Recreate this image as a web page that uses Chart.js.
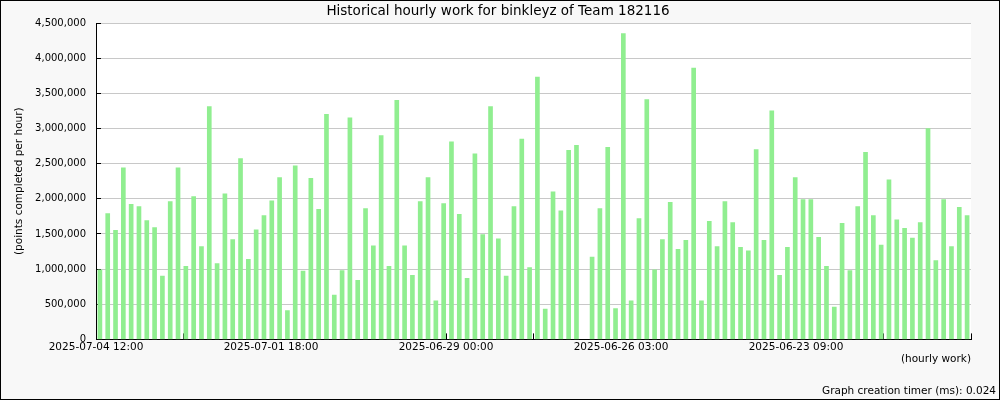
<!DOCTYPE html>
<html>
<head>
<meta charset="utf-8">
<title>Historical hourly work</title>
<script src="https://cdn.jsdelivr.net/npm/chart.js@4.4.0/dist/chart.umd.min.js"></script>
<style>
    body { margin: 0; background: #ffffff; }
    #wrap { width: 1000px; height: 400px; position: relative; }
</style>
</head>
<body>
<div id="wrap"><canvas id="bar-chart"></canvas></div>
<script>
var categories = [
    1, 2, 3, 4, 5, 6, 7, 8, 9, 10, 11, 12, 13, 14, 15, 16,
    17, 18, 19, 20, 21, 22, 23, 24, 25, 26, 27, 28, 29, 30, 31, 32,
    33, 34, 35, 36, 37, 38, 39, 40, 41, 42, 43, 44, 45, 46, 47, 48,
    49, 50, 51, 52, 53, 54, 55, 56, 57, 58, 59, 60, 61, 62, 63, 64,
    65, 66, 67, 68, 69, 70, 71, 72, 73, 74, 75, 76, 77, 78, 79, 80,
    81, 82, 83, 84, 85, 86, 87, 88, 89, 90, 91, 92, 93, 94, 95, 96,
    97, 98, 99, 100, 101, 102, 103, 104, 105, 106, 107, 108, 109, 110, 111, 112
];
var points = [ // points completed per hour, newest first
    990000, 1790000, 1550000, 2440000, 1920000, 1890000, 1690000, 1590000,
    900000, 1960000, 2440000, 1040000, 2030000, 1320000, 3310000, 1080000,
    2070000, 1420000, 2570000, 1140000, 1560000, 1760000, 1970000, 2300000,
    410000, 2470000, 970000, 2290000, 1850000, 3200000, 630000, 980000,
    3150000, 840000, 1860000, 1330000, 2900000, 1040000, 3400000, 1330000,
    910000, 1960000, 2300000, 550000, 1930000, 2810000, 1780000, 870000,
    2640000, 1490000, 3310000, 1430000, 900000, 1890000, 2850000, 1020000,
    3730000, 430000, 2100000, 1830000, 2690000, 2760000, null, 1170000,
    1860000, 2730000, 440000, 4350000, 550000, 1720000, 3410000, 990000,
    1420000, 1950000, 1280000, 1410000, 3860000, 550000, 1680000, 1320000,
    1960000, 1660000, 1310000, 1260000, 2700000, 1410000, 3250000, 910000,
    1310000, 2300000, 1990000, 1990000, 1450000, 1040000, 460000, 1650000,
    980000, 1890000, 2660000, 1760000, 1340000, 2270000, 1700000, 1580000,
    1440000, 1660000, 3000000, 1120000, 1990000, 1320000, 1880000, 1760000
];
var tickLabels = [
    '2025-07-04 12:00', '', '2025-07-01 18:00', '', '2025-06-29 00:00', '',
    '2025-06-26 03:00', '', '2025-06-23 09:00', '', ''
];

Chart.defaults.font.family = 'DejaVu Sans';
Chart.defaults.font.size = 10.5;
Chart.defaults.color = '#000000';

var backgroundPlugin = { // grey page, white plot, thin black frame
    id: 'background',
    beforeDraw: function (chart) {
        var ctx = chart.ctx;
        var area = chart.chartArea;
        ctx.save();
        ctx.fillStyle = '#f8f8f8';
        ctx.fillRect(0, 0, chart.width, chart.height);
        ctx.fillStyle = '#ffffff';
        ctx.fillRect(area.left, area.top, area.right - area.left, area.bottom - area.top);
        ctx.strokeStyle = '#000000';
        ctx.lineWidth = 1;
        ctx.strokeRect(0.5, 0.5, chart.width - 1, chart.height - 1);
        ctx.restore();
    }
};

var ctx = document.getElementById('bar-chart');
var chart = new Chart(ctx, {
    type: 'bar',
    data: {
        labels: categories,
        datasets: [{
            data: points,
            backgroundColor: '#90ee90',
            borderWidth: 0,
            barThickness: 4,
            xAxisID: 'x',
            yAxisID: 'y'
        }]
    },
    options: {
        responsive: true,
        maintainAspectRatio: false,
        animation: false,
        layout: { padding: { top: 0, right: 4, bottom: 0, left: 0 } },
        plugins: {
            legend: { display: false },
            tooltip: { enabled: false },
            title: {
                display: true,
                text: 'Historical hourly work for binkleyz of Team 182116',
                font: { size: 13.5, weight: 'normal' },
                color: '#000000',
                padding: { top: 3, bottom: 3.8 }
            },
            subtitle: {
                display: true,
                position: 'bottom',
                align: 'end',
                text: 'Graph creation timer (ms): 0.024',
                font: { size: 10.5, weight: 'normal' },
                color: '#000000',
                padding: { top: 0, bottom: 2 }
            }
        },
        scales: {
            x: {
                type: 'category',
                display: false,
                offset: true
            },
            xt: { // time ticks along the bottom
                type: 'linear',
                position: 'bottom',
                offset: false,
                min: 0,
                max: 10,
                grid: {
                    offset: false,
                    drawOnChartArea: false,
                    tickLength: -6,
                    tickColor: '#000000'
                },
                border: { color: '#000000', width: 1 },
                ticks: {
                    stepSize: 1,
                    autoSkip: false,
                    maxRotation: 0,
                    padding: 8,
                    callback: function (value, index) {
                        return tickLabels[index];
                    }
                },
                title: {
                    display: true,
                    text: '(hourly work)',
                    align: 'end',
                    padding: { top: 0, bottom: 20 }
                },
                afterFit: function (scale) {
                    scale.height = 46;
                }
            },
            y: {
                position: 'left',
                min: 0,
                max: 4500000,
                grid: {
                    color: '#c8c8c8',
                    tickLength: -5,
                    tickColor: '#000000'
                },
                border: { color: '#000000', width: 1 },
                ticks: {
                    stepSize: 500000,
                    padding: 15,
                    font: { size: 10 },
                    callback: function (value) {
                        return value.toLocaleString('en-US');
                    }
                },
                title: {
                    display: true,
                    text: '(points completed per hour)',
                    padding: { top: 13, bottom: 0 }
                },
                afterFit: function (scale) {
                    scale.width = 96;
                }
            },
            yr: { // empty right margin
                type: 'linear',
                position: 'right',
                grid: { display: false },
                border: { display: false },
                ticks: { display: false },
                afterFit: function (scale) {
                    scale.width = 25;
                }
            }
        }
    },
    plugins: [backgroundPlugin]
});
</script>
</body>
</html>
